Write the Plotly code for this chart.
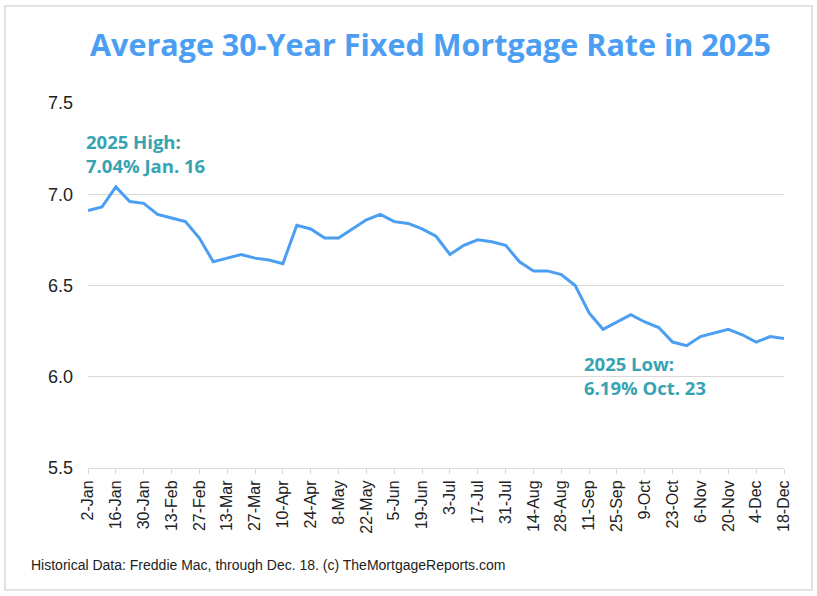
import plotly.graph_objects as go

week_labels = ["2-Jan","9-Jan","16-Jan","23-Jan","30-Jan","6-Feb","13-Feb","20-Feb","27-Feb",
               "6-Mar","13-Mar","20-Mar","27-Mar","3-Apr","10-Apr","17-Apr","24-Apr",
               "1-May","8-May","15-May","22-May","29-May","5-Jun","12-Jun","19-Jun","26-Jun",
               "3-Jul","10-Jul","17-Jul","24-Jul","31-Jul","7-Aug","14-Aug","21-Aug","28-Aug",
               "4-Sep","11-Sep","18-Sep","25-Sep","2-Oct","9-Oct","16-Oct","23-Oct","30-Oct",
               "6-Nov","13-Nov","20-Nov","26-Nov","4-Dec","11-Dec","18-Dec"]
rates = [6.91,6.93,7.04,6.96,6.95,6.89,6.87,6.85,6.76,
         6.63,6.65,6.67,6.65,6.64,6.62,6.83,6.81,
         6.76,6.76,6.81,6.86,6.89,6.85,6.84,6.81,6.77,
         6.67,6.72,6.75,6.74,6.72,6.63,6.58,6.58,6.56,
         6.50,6.35,6.26,6.30,6.34,6.30,6.27,6.19,6.17,
         6.22,6.24,6.26,6.23,6.19,6.22,6.21]
y_ticks = [5.5, 6.0, 6.5, 7.0, 7.5]

title_text = "Average 30-Year Fixed Mortgage Rate in 2025"
high_text = "2025 High:<br>7.04% Jan. 16"
low_text = "2025 Low:<br>6.19% Oct. 23"
footer_text = "Historical Data: Freddie Mac, through Dec. 18. (c) TheMortgageReports.com"

W, H = 817, 596
L, R, T, B = 88, 33, 103, 128
pw, ph = W - L - R, H - T - B

def px(x):
    return (x - L) / pw

def py(y):
    return (H - B - y) / ph

x_idx = list(range(len(rates)))
tick_idx = x_idx[::2]
tick_txt = [week_labels[i] for i in tick_idx]

fig = go.Figure()
fig.add_trace(go.Scatter(x=x_idx, y=rates, mode="lines",
                         line=dict(color="#4B9EF2", width=3), hoverinfo="skip"))

teal = "#36A3B3"
fig.update_layout(
    width=W, height=H,
    margin=dict(l=L, r=R, t=T, b=B),
    paper_bgcolor="white", plot_bgcolor="white",
    showlegend=False,
    xaxis=dict(range=[0, len(rates) - 1], tickmode="array", tickvals=tick_idx, ticktext=tick_txt,
               tickangle=-90, ticks="outside", ticklen=5, tickcolor="#D9D9D9",
               showline=True, linecolor="#D9D9D9", linewidth=1, showgrid=False, zeroline=False,
               tickfont=dict(family="Arial, Liberation Sans", size=16, color="#222")),
    yaxis=dict(range=[5.5, 7.5], tickmode="array", tickvals=y_ticks,
               ticktext=[f"{v:.1f}" for v in y_ticks],
               showgrid=True, gridcolor="#D9D9D9", gridwidth=1, zeroline=False, showline=False,
               ticklabelstandoff=14,
               tickfont=dict(family="Arial, Liberation Sans", size=18, color="#222")),
    annotations=[
        dict(text="<b>" + title_text + "</b>", xref="paper", yref="paper",
             x=px(430), y=py(44), xanchor="center", yanchor="middle", showarrow=False,
             font=dict(family="Open Sans", size=30.5, color="#4B9EF2")),
        dict(text="<b>" + high_text + "</b>", xref="paper", yref="paper",
             x=px(84), y=py(127), xanchor="left", yanchor="top", align="left", showarrow=False,
             font=dict(family="Open Sans", size=18.5, color=teal)),
        dict(text="<b>" + low_text + "</b>", xref="paper", yref="paper",
             x=px(582), y=py(349), xanchor="left", yanchor="top", align="left", showarrow=False,
             font=dict(family="Open Sans", size=18.5, color=teal)),
        dict(text=footer_text, xref="paper", yref="paper",
             x=px(29), y=py(565), xanchor="left", yanchor="middle", showarrow=False,
             font=dict(family="Arial, Liberation Sans", size=14, color="#222")),
    ],
    shapes=[dict(type="rect", xref="paper", yref="paper",
                 x0=px(5), x1=px(812), y0=py(590), y1=py(6),
                 line=dict(color="#D9D9D9", width=1.5), fillcolor="rgba(0,0,0,0)", layer="below")],
)

fig.write_html("out.html", config={"displayModeBar": False},
               post_script="document.body.style.margin='0';document.body.style.overflow='hidden';")
